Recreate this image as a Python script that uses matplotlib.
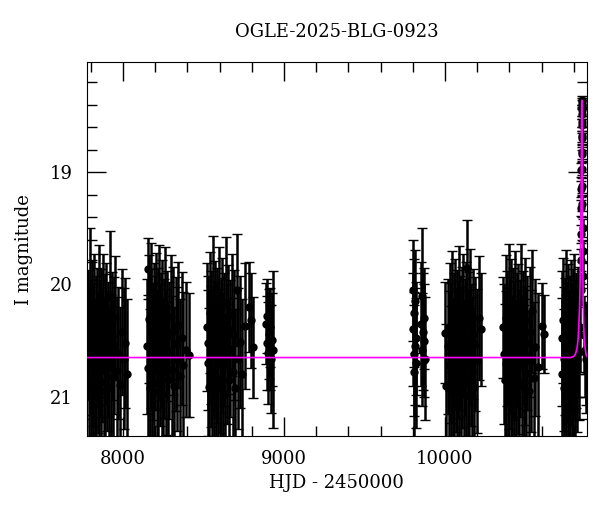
import matplotlib
matplotlib.use("Agg")
import matplotlib.pyplot as plt
import numpy as np
from matplotlib.ticker import MultipleLocator

plt.rcParams["font.family"] = ["DejaVu Serif"]

title = "OGLE-2025-BLG-0923"

# season 1
s1_t = [7781, 7787, 7792, 7798, 7803, 7806, 7811, 7815, 7820, 7824, 7829, 7834, 7838, 7843,
        7848, 7852, 7857, 7861, 7866, 7871, 7876, 7880, 7885, 7890, 7895, 7900, 7906, 7911,
        7917, 7923, 7929, 7936, 7944, 7952, 7961, 7970, 7980, 7991, 8003, 8015, 8027]
s1_m = [20.45, 20.71, 20.02, 20.88, 20.56, 20.33, 20.92, 20.64, 20.27, 20.79, 20.51, 20.98, 20.38, 20.69,
        20.15, 20.84, 20.57, 20.43, 20.95, 20.62, 20.24, 20.76, 20.49, 20.87, 20.35, 20.68, 20.58, 20.91,
        20.10, 20.73, 20.46, 20.82, 20.54, 20.30, 20.77, 20.61, 20.89, 20.42, 20.66, 20.52, 20.80]
s1_e = [0.58, 0.65, 0.52, 0.70, 0.60, 0.55, 0.68, 0.62, 0.54, 0.66, 0.59, 0.72, 0.53, 0.63,
        0.50, 0.67, 0.61, 0.57, 0.71, 0.60, 0.51, 0.65, 0.58, 0.69, 0.54, 0.62, 0.60, 0.70,
        0.58, 0.64, 0.57, 0.68, 0.61, 0.55, 0.66, 0.59, 0.69, 0.56, 0.63, 0.58, 0.67]

# season 2
s2_t = [8151, 8154, 8158, 8163, 8167, 8172, 8176, 8181, 8186, 8190, 8195, 8200, 8204, 8209,
        8214, 8219, 8224, 8229, 8234, 8239, 8245, 8250, 8256, 8262, 8268, 8274, 8281, 8288,
        8295, 8302, 8310, 8318, 8326, 8335, 8344, 8354, 8364, 8375, 8390, 8410]
s2_m = [20.55, 19.86, 20.74, 20.31, 20.92, 20.48, 20.18, 20.83, 20.60, 20.37, 20.96, 20.52, 20.26, 20.71,
        20.44, 20.88, 20.15, 20.63, 20.50, 20.79, 20.34, 20.97, 20.57, 20.22, 20.69, 20.46, 20.85, 20.59,
        20.29, 20.76, 20.41, 20.90, 20.53, 20.66, 20.36, 20.81, 20.48, 20.72, 20.58, 20.63]
s2_e = [0.60, 0.27, 0.65, 0.57, 0.70, 0.62, 0.55, 0.67, 0.61, 0.56, 0.72, 0.60, 0.54, 0.66,
        0.59, 0.69, 0.50, 0.63, 0.60, 0.67, 0.56, 0.71, 0.62, 0.55, 0.65, 0.58, 0.69, 0.61,
        0.55, 0.66, 0.57, 0.70, 0.60, 0.64, 0.56, 0.68, 0.59, 0.65, 0.60, 0.55]

# season 3
s3_t = [8522, 8526, 8530, 8535, 8539, 8544, 8548, 8553, 8557, 8562, 8567, 8571, 8576, 8581,
        8586, 8591, 8596, 8601, 8606, 8611, 8616, 8622, 8628, 8634, 8640, 8646, 8653, 8660,
        8667, 8674, 8682, 8690, 8698, 8706, 8715, 8724, 8740, 8760, 8785, 8795, 8806]
s3_m = [20.38, 20.70, 20.52, 20.91, 20.25, 20.64, 20.47, 20.86, 20.12, 20.58, 20.79, 20.35, 20.95, 20.61,
        20.43, 20.82, 20.20, 20.68, 20.54, 20.89, 20.31, 20.74, 20.49, 20.97, 20.16, 20.62, 20.40, 20.85,
        20.57, 20.27, 20.78, 20.45, 20.92, 20.05, 20.66, 20.51, 20.80, 20.37, 20.20, 20.32, 20.56]
s3_e = [0.57, 0.65, 0.60, 0.70, 0.54, 0.63, 0.59, 0.68, 0.55, 0.61, 0.67, 0.56, 0.72, 0.62,
        0.58, 0.68, 0.53, 0.64, 0.60, 0.69, 0.55, 0.66, 0.59, 0.71, 0.58, 0.62, 0.57, 0.68,
        0.61, 0.54, 0.66, 0.58, 0.70, 0.50, 0.63, 0.59, 0.67, 0.56, 0.40, 0.42, 0.45]

# season 4
s4_t = [8888, 8892, 8896, 8900, 8905, 8910, 8915, 8920, 8926, 8932]
s4_m = [20.35, 20.52, 20.28, 20.61, 20.44, 20.56, 20.38, 20.66, 20.49, 20.58]
s4_e = [0.36, 0.42, 0.33, 0.45, 0.40, 0.38, 0.35, 0.48, 0.41, 0.70]

# season 5
s5_t = [9801, 9803, 9805, 9807, 9809, 9812, 9814, 9817, 9820, 9850, 9855, 9860, 9865, 9868, 9872, 9876]
s5_m = [20.05, 20.40, 20.62, 20.78, 20.25, 20.55, 20.15, 20.70, 20.48, 20.35, 20.10, 20.58, 20.42, 20.30, 20.50, 20.66]
s5_e = [0.45, 0.50, 0.55, 0.60, 0.48, 0.52, 0.46, 0.58, 0.50, 0.55, 0.60, 0.50, 0.52, 0.45, 0.50, 0.55]

# season 6
s6_t = [9998, 10004, 10020, 10026, 10031, 10036, 10040, 10045, 10049, 10054, 10058, 10063, 10067, 10072,
        10076, 10081, 10085, 10090, 10095, 10099, 10104, 10108, 10113, 10118, 10123, 10128, 10133, 10137,
        10142, 10147, 10152, 10157, 10162, 10168, 10174, 10180, 10188, 10196, 10210, 10224]
s6_m = [20.43, 20.90, 20.55, 20.72, 20.38, 20.88, 20.61, 20.24, 20.79, 20.50, 20.96, 20.33, 20.67, 20.46,
        20.85, 20.58, 20.19, 20.74, 20.52, 20.93, 20.41, 20.65, 20.28, 20.81, 20.56, 20.98, 20.36, 19.85,
        20.70, 20.48, 20.87, 20.22, 20.63, 20.77, 20.44, 20.91, 20.53, 20.68, 20.30, 20.40]
s6_e = [0.45, 0.55, 0.60, 0.66, 0.57, 0.69, 0.62, 0.54, 0.67, 0.60, 0.72, 0.56, 0.64, 0.59,
        0.68, 0.61, 0.53, 0.66, 0.60, 0.70, 0.57, 0.63, 0.55, 0.67, 0.61, 0.72, 0.56, 0.42,
        0.65, 0.59, 0.69, 0.54, 0.63, 0.66, 0.58, 0.70, 0.60, 0.64, 0.55, 0.50]

# season 7
s7_t = [10360, 10368, 10372, 10377, 10381, 10386, 10390, 10395, 10399, 10404, 10408, 10413, 10417, 10422,
        10426, 10431, 10436, 10441, 10446, 10451, 10456, 10461, 10466, 10471, 10476, 10482, 10488, 10494,
        10500, 10506, 10512, 10519, 10526, 10533, 10541, 10550, 10560, 10575, 10603, 10612]
s7_m = [20.38, 20.62, 20.85, 20.30, 20.71, 20.48, 20.93, 20.21, 20.66, 20.54, 20.88, 20.35, 20.76, 20.45,
        20.97, 20.59, 20.26, 20.81, 20.50, 20.69, 20.39, 20.90, 20.57, 20.18, 20.74, 20.47, 20.86, 20.63,
        20.32, 20.79, 20.52, 20.95, 20.42, 20.68, 20.24, 20.83, 20.56, 20.73, 20.37, 20.44]
s7_e = [0.45, 0.62, 0.68, 0.56, 0.65, 0.60, 0.70, 0.57, 0.63, 0.61, 0.68, 0.58, 0.66, 0.60,
        0.72, 0.62, 0.56, 0.67, 0.60, 0.64, 0.57, 0.69, 0.61, 0.54, 0.65, 0.59, 0.68, 0.62,
        0.56, 0.66, 0.60, 0.71, 0.58, 0.63, 0.55, 0.67, 0.61, 0.65, 0.38, 0.35]

# season 8 (baseline part)
s8_t = [10726, 10730, 10734, 10738, 10742, 10746, 10750, 10754, 10758, 10762, 10766, 10770, 10774,
        10778, 10782, 10786, 10790, 10794, 10798, 10802, 10806, 10810, 10815, 10820, 10826, 10832,
        10838, 10862, 10868, 10874, 10879]
s8_m = [20.48, 20.80, 20.32, 20.66, 20.92, 20.55, 20.24, 20.75, 20.61, 20.87, 20.40, 20.70, 20.52,
        20.96, 20.35, 20.63, 20.82, 20.45, 20.72, 20.28, 20.58, 20.89, 20.50, 20.67, 20.42, 20.60,
        20.38, 20.45, 20.58, 20.62, 20.66]
s8_e = [0.60, 0.68, 0.56, 0.64, 0.70, 0.61, 0.55, 0.66, 0.62, 0.69, 0.58, 0.65, 0.60,
        0.72, 0.57, 0.63, 0.68, 0.59, 0.65, 0.55, 0.62, 0.70, 0.60, 0.64, 0.58, 0.61,
        0.40, 0.35, 0.42, 0.45, 0.48]

# event peak points
ev_t = [10843, 10845, 10846, 10847, 10847.5, 10848, 10848.5, 10849, 10849.5, 10850, 10850.3, 10850.6,
        10851, 10851.4, 10851.8, 10852.2, 10852.6, 10853, 10853.5, 10854, 10855, 10856, 10858]
ev_m = [20.05, 19.78, 19.55, 19.32, 19.15, 18.98, 18.82, 18.68, 18.55, 18.45, 18.38, 18.36,
        18.40, 18.48, 18.58, 18.70, 18.84, 18.97, 19.12, 19.28, 19.50, 19.70, 19.92]
ev_e = [0.12, 0.10, 0.08, 0.07, 0.07, 0.06, 0.06, 0.05, 0.05, 0.05, 0.04, 0.04,
        0.04, 0.05, 0.05, 0.05, 0.06, 0.06, 0.07, 0.07, 0.08, 0.09, 0.11]

# microlensing model curve (tabulated)
model_t = [7770, 10780, 10800, 10810, 10820, 10826, 10831, 10836, 10840, 10843, 10845, 10847,
           10848, 10849, 10850, 10851, 10852, 10853, 10854, 10855, 10857, 10859, 10862, 10866,
           10871, 10876, 10882]
model_m = [20.65, 20.65, 20.64, 20.62, 20.57, 20.50, 20.38, 20.20, 19.95, 19.60, 19.30, 18.95,
           18.55, 18.42, 18.36, 18.42, 18.55, 18.95, 19.30, 19.60, 19.95, 20.20, 20.38, 20.50,
           20.57, 20.62, 20.64]

t = np.concatenate([s1_t, s2_t, s3_t, s4_t, s5_t, s6_t, s7_t, s8_t, ev_t])
m = np.concatenate([s1_m, s2_m, s3_m, s4_m, s5_m, s6_m, s7_m, s8_m, ev_m])
e = np.concatenate([s1_e, s2_e, s3_e, s4_e, s5_e, s6_e, s7_e, s8_e, ev_e])

fig = plt.figure(figsize=(6, 5.12), dpi=100)
ax = fig.add_axes([0.145, 0.148, 0.833, 0.731])

ax.errorbar(t, m, yerr=e, fmt="o", color="black", ms=5, ecolor="black",
            elinewidth=1.8, capsize=3.5, capthick=1.0, zorder=2)
ax.plot(model_t, model_m, color="#ff00ff", lw=1.2, zorder=3)

ax.set_xlim(7776, 10881)
ax.set_ylim(21.35, 18.02)

ax.xaxis.set_major_locator(MultipleLocator(1000))
ax.xaxis.set_minor_locator(MultipleLocator(200))
ax.yaxis.set_major_locator(MultipleLocator(1))
ax.yaxis.set_minor_locator(MultipleLocator(0.2))
ax.tick_params(which="both", direction="in", top=True, right=True, labelsize=13)
ax.tick_params(which="major", length=14, width=1, pad=10)
ax.tick_params(which="minor", length=7, width=1)

ax.set_title(title, fontsize=13, pad=18)
ax.set_xlabel("HJD - 2450000", fontsize=13)
ax.set_ylabel("I magnitude", fontsize=13, labelpad=12)

fig.savefig("out.png", dpi=100)
